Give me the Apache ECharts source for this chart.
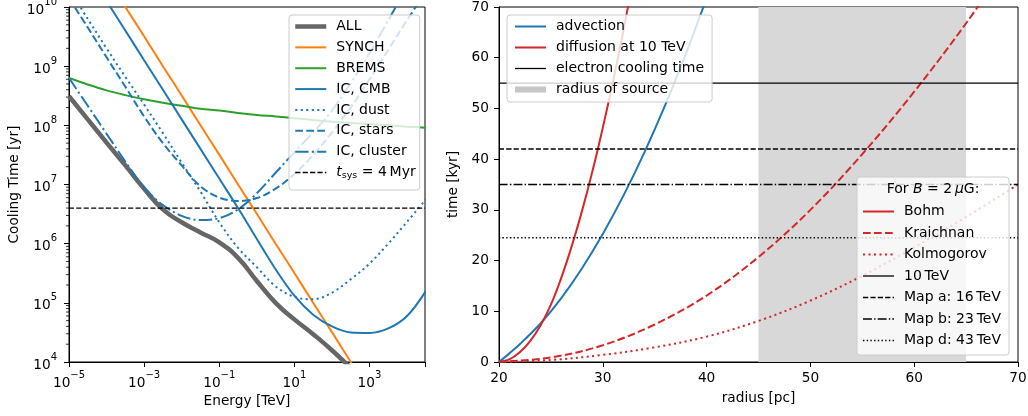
<!DOCTYPE html>
<html>
<head>
<meta charset="utf-8">
<title>cooling and transport times</title>
<script src="https://cdn.jsdelivr.net/npm/echarts@6/dist/echarts.min.js"></script>
<style>
  html, body { margin: 0; padding: 0; background: #fff; }
  #chart { width: 1028px; height: 416px; }
</style>
</head>
<body>
<div id="chart"></div>
<script>
// ---- left panel: cooling time vs energy (half-decade grid) ----
const energy = [1e-5, 3.16e-5, 1e-4, 3.16e-4, 1e-3, 3.16e-3, 1e-2, 3.16e-2, 0.1, 0.316,
  1, 3.16, 10, 31.6, 100, 316, 1e3, 3.16e3, 1e4, 3.16e4];
const tAll = [3.1e8, 1.26e8, 5.1e7, 2.1e7, 8.5e6, 3.8e6, 2.3e6, 1.55e6, 1.05e6, 5.75e5,
  2.34e5, 1.0e5, 5.25e4, 2.95e4, 1.58e4, 7.9e3, 4e3, null, null, null];
const tSynch = [null, null, 3.2e10, 1e10, 3.2e9, 1e9, 3.2e8, 1e8, 3.2e7, 1e7,
  3.2e6, 1e6, 3.2e5, 1e5, 3.2e4, 1e4, 3.2e3, null, null, null];
const tBrems = [6.3e8, 4.9e8, 3.9e8, 3.24e8, 2.75e8, 2.4e8, 2.15e8, 1.9e8, 1.78e8, 1.62e8,
  1.5e8, 1.41e8, 1.32e8, 1.23e8, 1.15e8, 1.1e8, 1.05e8, 1.0e8, 9.5e7, 9.1e7];
const tCmb = [null, null, 1.26e10, 4e9, 1.26e9, 4e8, 1.26e8, 4e7, 1.26e7, 4e6,
  1.2e6, 3.7e5, 1.32e5, 6.3e4, 4e4, 3.16e4, 3.1e4, 3.7e4, 6.0e4, 1.58e5];
const tDust = [2e10, 6.3e9, 2e9, 6.6e8, 2.24e8, 7.4e7, 2.34e7, 7.6e6, 2.3e6, 8.5e5,
  4e5, 1.9e5, 1.26e5, 1.15e5, 1.48e5, 2.5e5, 4.6e5, 1e6, 2.34e6, 5.6e6];
const tStars = [1.4e10, 4.5e9, 1.41e9, 4.5e8, 1.41e8, 5e7, 2.1e7, 9.3e6, 6e6, 5.25e6,
  5.9e6, 8.5e6, 1.5e7, 3.16e7, 7.6e7, 2e8, 6e8, 1.9e9, 6e9, 1.8e10];
const tCluster = [6.3e8, 2.14e8, 7.2e7, 2.45e7, 8.9e6, 4.5e6, 2.95e6, 2.5e6, 2.7e6, 3.8e6,
  7.1e6, 1.58e7, 3.5e7, 7.6e7, 1.78e8, 5.2e8, 1.66e9, 6e9, 2.2e10, null];
const energyRange = [1e-5, 3e4];
const tSys = 4e6;

// ---- right panel: time vs radius ----
const radiusAdv = [20, 21, 22, 24, 26, 28, 30, 32, 34, 36, 38, 40];
const tAdvection = [0, 1.7, 3.5, 7.6, 12.6, 18.5, 25.25, 32.85, 41.3, 50.6, 60.75, 71.75];
const radiusBohm = [20, 21, 22, 23, 24, 25, 26, 27, 28, 29, 30, 31, 32, 33];
const tBohm = [0, 0.5, 1.9, 4.1, 7.2, 11.3, 16.6, 22.8, 29.8, 37.6, 46.2, 55.5, 65.5, 76.3];
const radiusDiff = [20, 25, 30, 35, 40, 45, 50, 55, 60, 65, 70];
const tKraichnan = [0, 0.9, 3.3, 7.4, 13.1, 20.7, 30.0, 41.0, 53.3, 66.8, 81.5];
const tKolmogorov = [0, 0.4, 1.4, 2.9, 5.0, 8.1, 12.1, 17.0, 22.6, 28.6, 35];
const radiusRange = [20, 70];
const sourceRange = [45, 65];
const coolNames = ['10\u2009TeV', 'Map a: 16\u2009TeV', 'Map b: 23\u2009TeV', 'Map d: 43\u2009TeV'];
const coolTimes = [55, 42, 35, 24.5];

const FONT = 'DejaVu Sans';
const FS = 13.7;
const BLUE = '#1f77b4', ORANGE = '#ff7f0e', GREEN = '#2ca02c', RED = '#d62728';
const DASH = [7.7, 3.3], DOT = [2.1, 3.4], DASHDOT = [13.3, 3.3, 2.1, 3.3];
const THIN = { solid: 'solid', dash: [5.2, 2.2], dot: [1.4, 2.3], dashdot: [8.9, 2.2, 1.4, 2.2] };

const zip = (xs, ys) => xs.map((x, i) => [x, ys[i]]).filter(p => p[1] != null);

function line(name, idx, data, color, width, type, smooth) {
  return {
    name: name, type: 'line', xAxisIndex: idx, yAxisIndex: idx,
    data: data, symbol: 'none', smooth: smooth || 0.35, z: 2,
    lineStyle: { color: color, width: width, type: type || 'solid' },
    itemStyle: { color: color, opacity: 0 }
  };
}

// minor ticks for log y axis (2..9 per decade)
const yMinor = [];
for (let n = 4; n < 10; n++) for (let k = 2; k < 10; k++) yMinor.push([1e-5, k * Math.pow(10, n)]);

function logLabel(v, skipEven) {
  const e = Math.log10(v), r = Math.round(e);
  if (Math.abs(e - r) > 1e-6) return '';
  if (skipEven && Math.abs(r % 2) !== 1) return '';
  return '{b|10}{s|' + (r < 0 ? '\u2212' + (-r) : r) + '}';
}
const supRich = {
  b: { fontFamily: FONT, fontSize: FS, color: '#000', verticalAlign: 'bottom', lineHeight: 20 },
  s: { fontFamily: FONT, fontSize: 10, color: '#000', verticalAlign: 'top', lineHeight: 11 }
};
const axisText = { fontFamily: FONT, fontSize: FS, color: '#000' };
const legendText = {
  fontFamily: FONT, fontSize: 14, color: '#000', lineHeight: 15, padding: [0, 0, 0, 5],
  rich: {
    it: { fontFamily: FONT, fontSize: 14, fontStyle: 'italic', color: '#000', lineHeight: 15 },
    sub: { fontFamily: FONT, fontSize: 9.5, color: '#000', verticalAlign: 'top', lineHeight: 11, padding: [6, 0, 0, 0] }
  }
};
const legendBox = {
  orient: 'vertical', itemWidth: 31, itemHeight: 14, selectedMode: false,
  itemStyle: { opacity: 0 },
  lineStyle: { width: 'inherit' },
  backgroundColor: 'rgba(255,255,255,0.8)', borderColor: '#cccccc', borderWidth: 1, borderRadius: 3,
  textStyle: legendText
};

const chart = echarts.init(document.getElementById('chart'), null, { renderer: 'canvas' });
const option = {
  backgroundColor: '#fff',
  animation: false,
  grid: [
    { left: 69, top: 7, width: 356, height: 355, show: true, borderColor: '#000', borderWidth: 1, containLabel: false, outerBoundsMode: 'none' },
    { left: 499, top: 7, width: 519, height: 355, show: true, borderColor: '#000', borderWidth: 1, containLabel: false, outerBoundsMode: 'none' }
  ],
  xAxis: [
    {
      gridIndex: 0, type: 'log', logBase: 10, min: energyRange[0], max: energyRange[1], splitNumber: 10, interval: 2,
      name: 'Energy [TeV]', nameLocation: 'middle', nameGap: 29, nameTextStyle: axisText,
      axisLine: { lineStyle: { color: '#000', width: 1 } },
      axisTick: { length: 5, lineStyle: { color: '#000' } },
      axisLabel: { margin: 8, formatter: v => logLabel(v, true), rich: supRich, showMaxLabel: true },
      splitLine: { show: false }
    },
    {
      gridIndex: 1, type: 'value', min: radiusRange[0], max: radiusRange[1], interval: 10,
      name: 'radius [pc]', nameLocation: 'middle', nameGap: 29, nameTextStyle: axisText,
      axisLine: { lineStyle: { color: '#000', width: 1 } },
      axisTick: { length: 5, lineStyle: { color: '#000' } },
      axisLabel: Object.assign({ margin: 9 }, axisText),
      splitLine: { show: false }
    }
  ],
  yAxis: [
    {
      gridIndex: 0, type: 'log', logBase: 10, min: 1e4, max: 1e10, splitNumber: 6,
      name: 'Cooling Time [yr]', nameLocation: 'middle', nameGap: 48, nameTextStyle: axisText,
      axisLine: { lineStyle: { color: '#000', width: 1 } },
      axisTick: { length: 5, lineStyle: { color: '#000' } },
      axisLabel: { margin: 12, formatter: v => logLabel(v, false), rich: supRich },
      splitLine: { show: false }
    },
    {
      gridIndex: 1, type: 'value', min: 0, max: 70, interval: 10,
      name: 'time [kyr]', nameLocation: 'middle', nameGap: 29, nameTextStyle: axisText,
      axisLine: { lineStyle: { color: '#000', width: 1 } },
      axisTick: { length: 5, lineStyle: { color: '#000' } },
      axisLabel: Object.assign({ margin: 10 }, axisText),
      splitLine: { show: false }
    }
  ],
  legend: [
    Object.assign({}, legendBox, {
      left: 289, top: 15, itemGap: 5.86, padding: [4, 4, 9, 4],
      data: ['ALL', 'SYNCH', 'BREMS', 'IC, CMB', 'IC, dust', 'IC, stars', 'IC, cluster', 'tsys'],
      formatter: n => n === 'tsys' ? '{it|t}{sub|sys} = 4\u2009Myr' : n
    }),
    Object.assign({}, legendBox, {
      left: 507, top: 15, itemGap: 6, padding: [4, 8, 5, 5],
      data: ['advection', 'diffusion at 10 TeV', 'electron cooling time', 'radius of source']
    }),
    Object.assign({}, legendBox, {
      left: 857, top: 177, itemGap: 6.5, padding: [27, 8, 7, 5],
      data: ['Bohm', 'Kraichnan', 'Kolmogorov'].concat(coolNames)
    })
  ],
  graphic: [{
    type: 'text', x: 933, y: 189, z: 100,
    style: {
      text: '{n|For }{i|B}{n| = 2\u2009}{i|\u03bc}{n|G:}',
      align: 'center', verticalAlign: 'middle',
      rich: {
        n: { fontFamily: FONT, fontSize: 14, fill: '#000', color: '#000' },
        i: { fontFamily: FONT, fontSize: 14, fontStyle: 'italic', fill: '#000', color: '#000' }
      }
    }
  }],
  series: [
    line('ALL', 0, zip(energy, tAll), '#666666', 4.5, 'solid', 0.5),
    line('SYNCH', 0, zip(energy, tSynch), ORANGE, 2),
    line('BREMS', 0, zip(energy, tBrems), GREEN, 2),
    line('IC, CMB', 0, zip(energy, tCmb), BLUE, 2),
    line('IC, dust', 0, zip(energy, tDust), BLUE, 2, DOT),
    line('IC, stars', 0, zip(energy, tStars), BLUE, 2, DASH),
    line('IC, cluster', 0, zip(energy, tCluster), BLUE, 2, DASHDOT),
    line('tsys', 0, energyRange.map(e => [e, tSys]), '#000', 1.3, THIN.dash),
    {
      name: 'minor', type: 'custom', xAxisIndex: 0, yAxisIndex: 0, silent: true, clip: false,
      data: yMinor,
      renderItem: (params, api) => {
        const p = api.coord([api.value(0), api.value(1)]);
        return { type: 'line', shape: { x1: p[0] - 3, y1: p[1], x2: p[0], y2: p[1] }, style: { stroke: '#000', lineWidth: 0.8 } };
      }
    },
    // right panel
    {
      name: 'radius of source', type: 'line', xAxisIndex: 1, yAxisIndex: 1, data: [], symbol: 'none', z: 1,
      lineStyle: { color: '#c6c6c6', width: 6 }, itemStyle: { color: '#c6c6c6', opacity: 0 },
      markArea: { silent: true, itemStyle: { color: '#d8d8d8', opacity: 1 },
        data: [[{ xAxis: sourceRange[0] }, { xAxis: sourceRange[1] }]] }
    },
    line('advection', 1, zip(radiusAdv, tAdvection), BLUE, 2),
    line('Bohm', 1, zip(radiusBohm, tBohm), RED, 2),
    line('Kraichnan', 1, zip(radiusDiff, tKraichnan), RED, 2, DASH),
    line('Kolmogorov', 1, zip(radiusDiff, tKolmogorov), RED, 2, DOT),
    line('diffusion at 10 TeV', 1, [], RED, 2),
    line('electron cooling time', 1, [], '#000', 1.3),
    line(coolNames[0], 1, radiusRange.map(r => [r, coolTimes[0]]), '#000', 1.3, THIN.solid),
    line(coolNames[1], 1, radiusRange.map(r => [r, coolTimes[1]]), '#000', 1.3, THIN.dash),
    line(coolNames[2], 1, radiusRange.map(r => [r, coolTimes[2]]), '#000', 1.3, THIN.dashdot),
    line(coolNames[3], 1, radiusRange.map(r => [r, coolTimes[3]]), '#000', 1.3, THIN.dot)
  ]
};
chart.setOption(option);
</script>
</body>
</html>
